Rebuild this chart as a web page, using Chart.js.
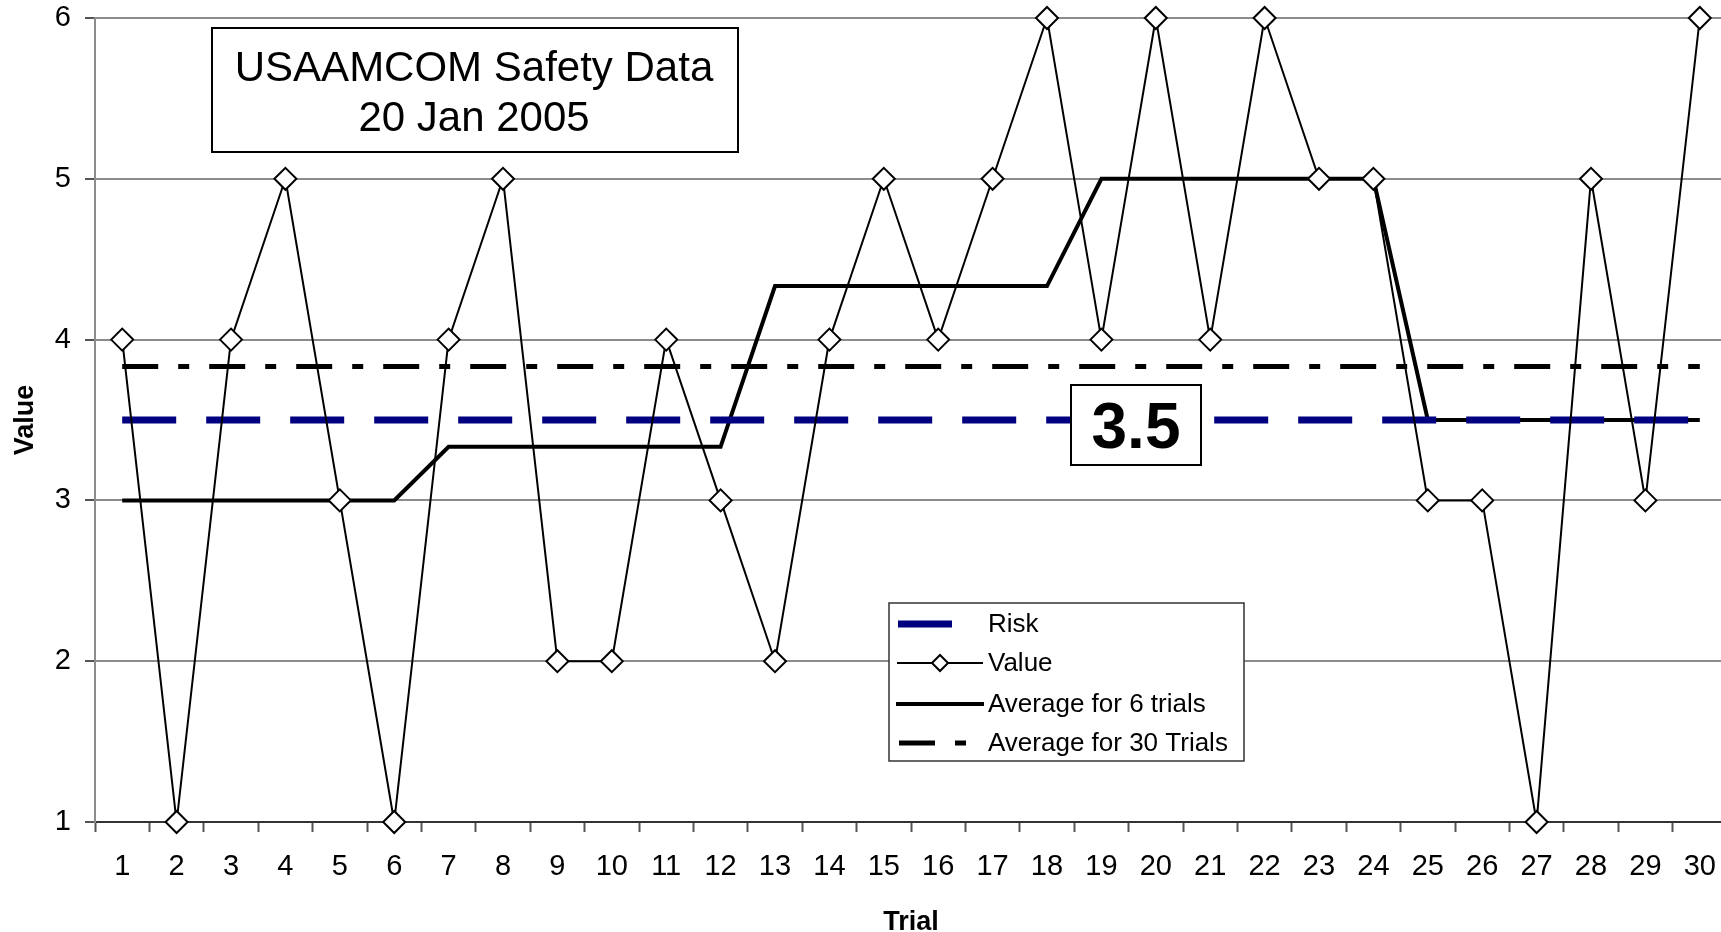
<!DOCTYPE html>
<html>
<head>
<meta charset="utf-8">
<title>USAAMCOM Safety Data</title>
<script src="https://cdn.jsdelivr.net/npm/chart.js@4.4.1/dist/chart.umd.min.js"></script>
<style>
  html, body { margin: 0; padding: 0; background: #fff; overflow: hidden; }
  #wrap { width: 1740px; height: 932px; }
</style>
</head>
<body>
<div id="wrap"><canvas id="chart" width="1740" height="932"></canvas></div>
<script>
// ---- data ----
const trials = ['1','2','3','4','5','6','7','8','9','10','11','12','13','14','15',
                '16','17','18','19','20','21','22','23','24','25','26','27','28','29','30'];
const values = [4,1,4,5,3,1,4,5,2,2,4,3,2,4,5,4,5,6,4,6,4,6,5,5,3,3,1,5,3,6];
const average6 = [3,3,3,3,3,3,
                  3.333,3.333,3.333,3.333,3.333,3.333,
                  4.333,4.333,4.333,4.333,4.333,4.333,
                  5,5,5,5,5,5,
                  3.5,3.5,3.5,3.5,3.5,3.5];
const average30 = [3.833,3.833,3.833,3.833,3.833,3.833,3.833,3.833,3.833,3.833,
                   3.833,3.833,3.833,3.833,3.833,3.833,3.833,3.833,3.833,3.833,
                   3.833,3.833,3.833,3.833,3.833,3.833,3.833,3.833,3.833,3.833];
const riskLevel = 3.5;
const risk = [3.5,3.5,3.5,3.5,3.5,3.5,3.5,3.5,3.5,3.5,3.5,3.5,3.5,3.5,3.5,
              3.5,3.5,3.5,3.5,3.5,3.5,3.5,3.5,3.5,3.5,3.5,3.5,3.5,3.5,3.5];
const yTicks = [1,2,3,4,5,6];
const titleLines = ['USAAMCOM Safety Data', '20 Jan 2005'];
const seriesNames = ['Risk', 'Value', 'Average for 6 trials', 'Average for 30 Trials'];

const FONT = '"Liberation Sans", Arial, Helvetica, sans-serif';

// Boxed title, boxed risk value and the legend, drawn over the plot
const overlays = {
  id: 'overlays',
  afterDatasetsDraw(chart) {
    const { ctx, scales: { y } } = chart;
    ctx.save();

    // title box
    ctx.fillStyle = '#fff';
    ctx.strokeStyle = '#000';
    ctx.lineWidth = 2;
    ctx.fillRect(212, 28, 526, 124);
    ctx.strokeRect(212, 28, 526, 124);
    ctx.fillStyle = '#000';
    ctx.font = '42px ' + FONT;
    ctx.textAlign = 'center';
    ctx.textBaseline = 'alphabetic';
    ctx.fillText(titleLines[0], 474, 81);
    ctx.fillText(titleLines[1], 474, 131);

    // risk value box
    const ry = y.getPixelForValue(riskLevel);
    ctx.fillStyle = '#fff';
    ctx.fillRect(1071, ry - 35, 130, 80);
    ctx.strokeRect(1071, ry - 35, 130, 80);
    ctx.fillStyle = '#000';
    ctx.font = 'bold 64px ' + FONT;
    ctx.fillText(String(riskLevel), 1136, ry + 28);

    // legend
    const lx = 889, ly = 603, lw = 355, lh = 158;
    ctx.fillStyle = '#fff';
    ctx.fillRect(lx, ly, lw, lh);
    ctx.strokeStyle = '#333';
    ctx.lineWidth = 1.5;
    ctx.strokeRect(lx, ly, lw, lh);

    const rows = [624, 663, 704, 743];
    const samples = [[898, 953], [897, 983], [896, 984], [899, 966]];
    chart.data.datasets.forEach((ds, i) => {
      const yy = rows[i];
      ctx.save();
      ctx.strokeStyle = ds.borderColor;
      ctx.lineWidth = ds.borderWidth;
      ctx.lineCap = 'butt';
      ctx.setLineDash(ds.borderDash || []);
      ctx.beginPath();
      ctx.moveTo(samples[i][0], yy);
      ctx.lineTo(samples[i][1], yy);
      ctx.stroke();
      ctx.restore();
      if (ds.pointRadius > 0) {
        const r = 8, cx = 940;
        ctx.beginPath();
        ctx.moveTo(cx - r, yy); ctx.lineTo(cx, yy - r);
        ctx.lineTo(cx + r, yy); ctx.lineTo(cx, yy + r);
        ctx.closePath();
        ctx.fillStyle = '#fff';
        ctx.fill();
        ctx.strokeStyle = '#000';
        ctx.lineWidth = 2;
        ctx.stroke();
      }
      ctx.fillStyle = '#000';
      ctx.font = '26px ' + FONT;
      ctx.textAlign = 'left';
      ctx.textBaseline = 'middle';
      ctx.fillText(ds.label, 988, yy + 1);
    });

    ctx.restore();
  }
};

new Chart(document.getElementById('chart'), {
  type: 'line',
  data: {
    labels: trials,
    datasets: [
      {
        label: seriesNames[0], data: risk, order: 1,
        borderColor: '#000080', borderWidth: 7, borderDash: [54, 30], borderCapStyle: 'butt',
        pointRadius: 0, fill: false, tension: 0
      },
      {
        label: seriesNames[1], data: values, order: 0, clip: false,
        borderColor: '#000', borderWidth: 2, tension: 0, fill: false,
        pointStyle: 'rectRot', pointRadius: 11, pointBorderWidth: 2,
        pointBackgroundColor: '#fff', pointBorderColor: '#000'
      },
      {
        label: seriesNames[2], data: average6, order: 2,
        borderColor: '#000', borderWidth: 4, pointRadius: 0, fill: false, tension: 0
      },
      {
        label: seriesNames[3], data: average30, order: 3,
        borderColor: '#000', borderWidth: 5, borderDash: [36, 20, 11, 20], borderCapStyle: 'butt',
        pointRadius: 0, fill: false, tension: 0
      }
    ]
  },
  options: {
    responsive: false,
    animation: false,
    devicePixelRatio: 1,
    layout: { padding: { left: 0, top: 18, right: 12.6, bottom: 0 } },
    plugins: { legend: { display: false }, tooltip: { enabled: false } },
    scales: {
      x: {
        type: 'category',
        offset: true,
        grid: {
          display: true, offset: true, drawOnChartArea: false, drawTicks: true,
          tickLength: 10, tickColor: '#555', tickWidth: 2
        },
        border: { display: true, color: '#333', width: 2 },
        ticks: { color: '#000', font: { family: FONT, size: 29 }, padding: 18, maxRotation: 0, autoSkip: false },
        title: {
          display: true, text: 'Trial', color: '#000',
          font: { family: FONT, size: 27, weight: 'bold', lineHeight: 1 },
          padding: { top: 0, bottom: -4 }
        },
        afterFit(scale) { scale.height = 110; scale.paddingLeft = 0; scale.paddingRight = 0; }
      },
      y: {
        min: 1, max: 6,
        afterBuildTicks(scale) { scale.ticks = yTicks.map(v => ({ value: v })); },
        grid: {
          color: ctx => (ctx.tick && ctx.tick.value === 1 ? '#333' : '#8c8c8c'),
          lineWidth: 2, drawTicks: true, tickLength: 10, tickColor: '#555', tickWidth: 2
        },
        border: { display: true, color: '#8c8c8c', width: 2 },
        ticks: { color: '#000', font: { family: FONT, size: 29 }, padding: 14 },
        title: {
          display: true, text: 'Value', color: '#000',
          font: { family: FONT, size: 27, weight: 'bold', lineHeight: 1 },
          padding: { top: 12, bottom: 0 }
        },
        afterFit(scale) { scale.width = 95; scale.paddingTop = 0; scale.paddingBottom = 0; }
      }
    }
  },
  plugins: [overlays]
});
</script>
</body>
</html>
